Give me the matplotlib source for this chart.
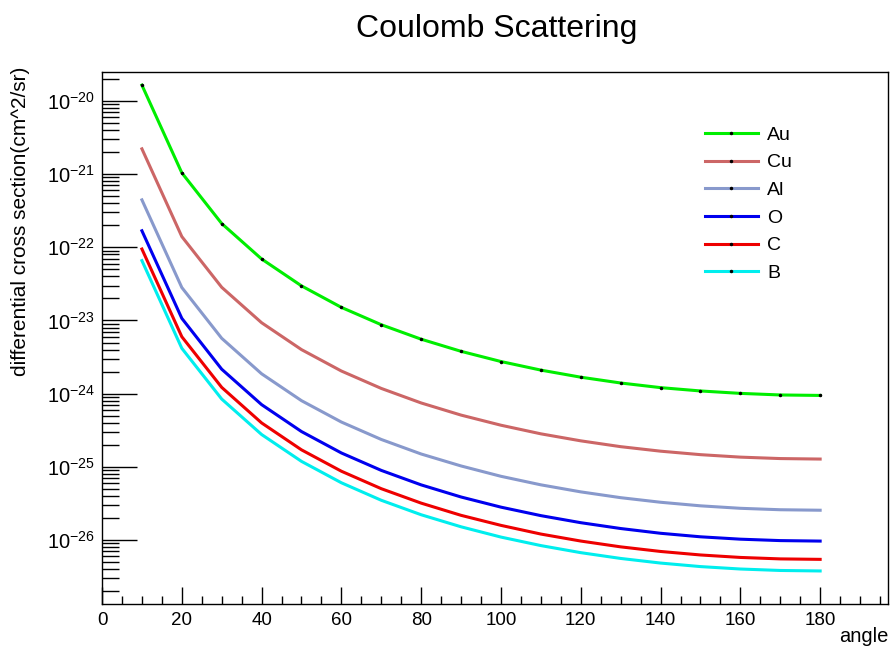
import numpy as np
import matplotlib.pyplot as plt
from matplotlib.lines import Line2D
from matplotlib.ticker import MultipleLocator, LogLocator, NullFormatter

plt.rcParams['font.family'] = ['Liberation Sans', 'DejaVu Sans']

angle = [10, 20, 30, 40, 50, 60, 70, 80, 90, 100, 110, 120, 130, 140, 150, 160, 170, 180]

au = [1.64e-20, 1.04e-21, 2.11e-22, 6.92e-23, 2.97e-23, 1.51e-23, 8.75e-24, 5.55e-24, 3.79e-24,
      2.75e-24, 2.10e-24, 1.68e-24, 1.40e-24, 1.21e-24, 1.09e-24, 1.01e-24, 9.61e-25, 9.47e-25]
cu = [2.21e-21, 1.40e-22, 2.84e-23, 9.32e-24, 4.00e-24, 2.04e-24, 1.18e-24, 7.47e-25, 5.10e-25,
      3.71e-25, 2.83e-25, 2.27e-25, 1.89e-25, 1.64e-25, 1.47e-25, 1.36e-25, 1.30e-25, 1.28e-25]
al = [4.44e-22, 2.82e-23, 5.71e-24, 1.87e-24, 8.03e-25, 4.10e-25, 2.37e-25, 1.50e-25, 1.03e-25,
      7.44e-26, 5.69e-26, 4.56e-26, 3.80e-26, 3.29e-26, 2.94e-26, 2.72e-26, 2.60e-26, 2.56e-26]
o = [1.68e-22, 1.07e-23, 2.16e-24, 7.09e-25, 3.04e-25, 1.55e-25, 8.96e-26, 5.68e-26, 3.88e-26,
     2.82e-26, 2.16e-26, 1.73e-26, 1.44e-26, 1.24e-26, 1.11e-26, 1.03e-26, 9.85e-27, 9.70e-27]
c = [9.46e-23, 6.00e-24, 1.22e-24, 3.99e-25, 1.71e-25, 8.73e-26, 5.04e-26, 3.20e-26, 2.18e-26,
     1.59e-26, 1.21e-26, 9.71e-27, 8.09e-27, 7.00e-27, 6.27e-27, 5.80e-27, 5.54e-27, 5.46e-27]
b = [6.57e-23, 4.17e-24, 8.45e-25, 2.77e-25, 1.19e-25, 6.07e-26, 3.50e-26, 2.22e-26, 1.52e-26,
     1.10e-26, 8.42e-27, 6.74e-27, 5.62e-27, 4.86e-27, 4.35e-27, 4.03e-27, 3.85e-27, 3.79e-27]

names = ['Au', 'Cu', 'Al', 'O', 'C', 'B']
colors = ['#00ee00', '#cc6666', '#8899cc', '#0000ee', '#ee0000', '#00eeee']
series = [au, cu, al, o, c, b]
decades = [1e-26, 1e-25, 1e-24, 1e-23, 1e-22, 1e-21, 1e-20]

fig = plt.figure(figsize=(8.91, 6.49), dpi=100)
ax = fig.add_axes([0.1145, 0.0693, 0.8821, 0.8202])

# draw the light ones first so Au sits on top
for name, col, vals in list(zip(names, colors, series))[::-1]:
    ax.plot(angle, vals, color=col, lw=2.2)
ax.plot(angle, au, ls='none', marker='o', ms=1.5, color='black')

ax.set_yscale('log')
ax.set_xlim(0, 197)
ax.set_ylim(1.34e-27, 2.5e-20)

ax.xaxis.set_major_locator(MultipleLocator(20))
ax.xaxis.set_minor_locator(MultipleLocator(5))
ax.set_yticks(decades)
ax.yaxis.set_minor_locator(LogLocator(base=10, subs=np.arange(2, 10), numticks=20))
ax.yaxis.set_minor_formatter(NullFormatter())

ax.tick_params(which='both', direction='in', top=False, right=False, width=1)
ax.tick_params(axis='x', which='major', length=12, pad=6, labelsize=13.5)
ax.tick_params(axis='x', which='minor', length=6)
ax.tick_params(axis='y', which='major', length=25, pad=5, labelsize=14.5)
ax.tick_params(axis='y', which='minor', length=12)
for sp in ax.spines.values():
    sp.set_linewidth(1)

fig.text(0.557, 0.955, 'Coulomb Scattering', ha='center', va='center', fontsize=23)
fig.text(0.023, 0.659, 'differential cross section(cm^2/sr)', rotation=90,
         ha='center', va='center', fontsize=15)
fig.text(0.997, 0.004, 'angle', ha='right', va='bottom', fontsize=14.5)

handles = [Line2D([0], [0], color=col, lw=2.2, marker='o', ms=1.5,
                  markerfacecolor='black', markeredgecolor='black')
           for col in colors]
ax.legend(handles, names, loc='upper left', bbox_to_anchor=(705 / 891, 1 - 126 / 649),
          bbox_transform=fig.transFigure, frameon=False, borderpad=0, borderaxespad=0,
          fontsize=14, handlelength=2.7, handletextpad=0.5, labelspacing=0.52)

fig.savefig('out.png', dpi=100)
